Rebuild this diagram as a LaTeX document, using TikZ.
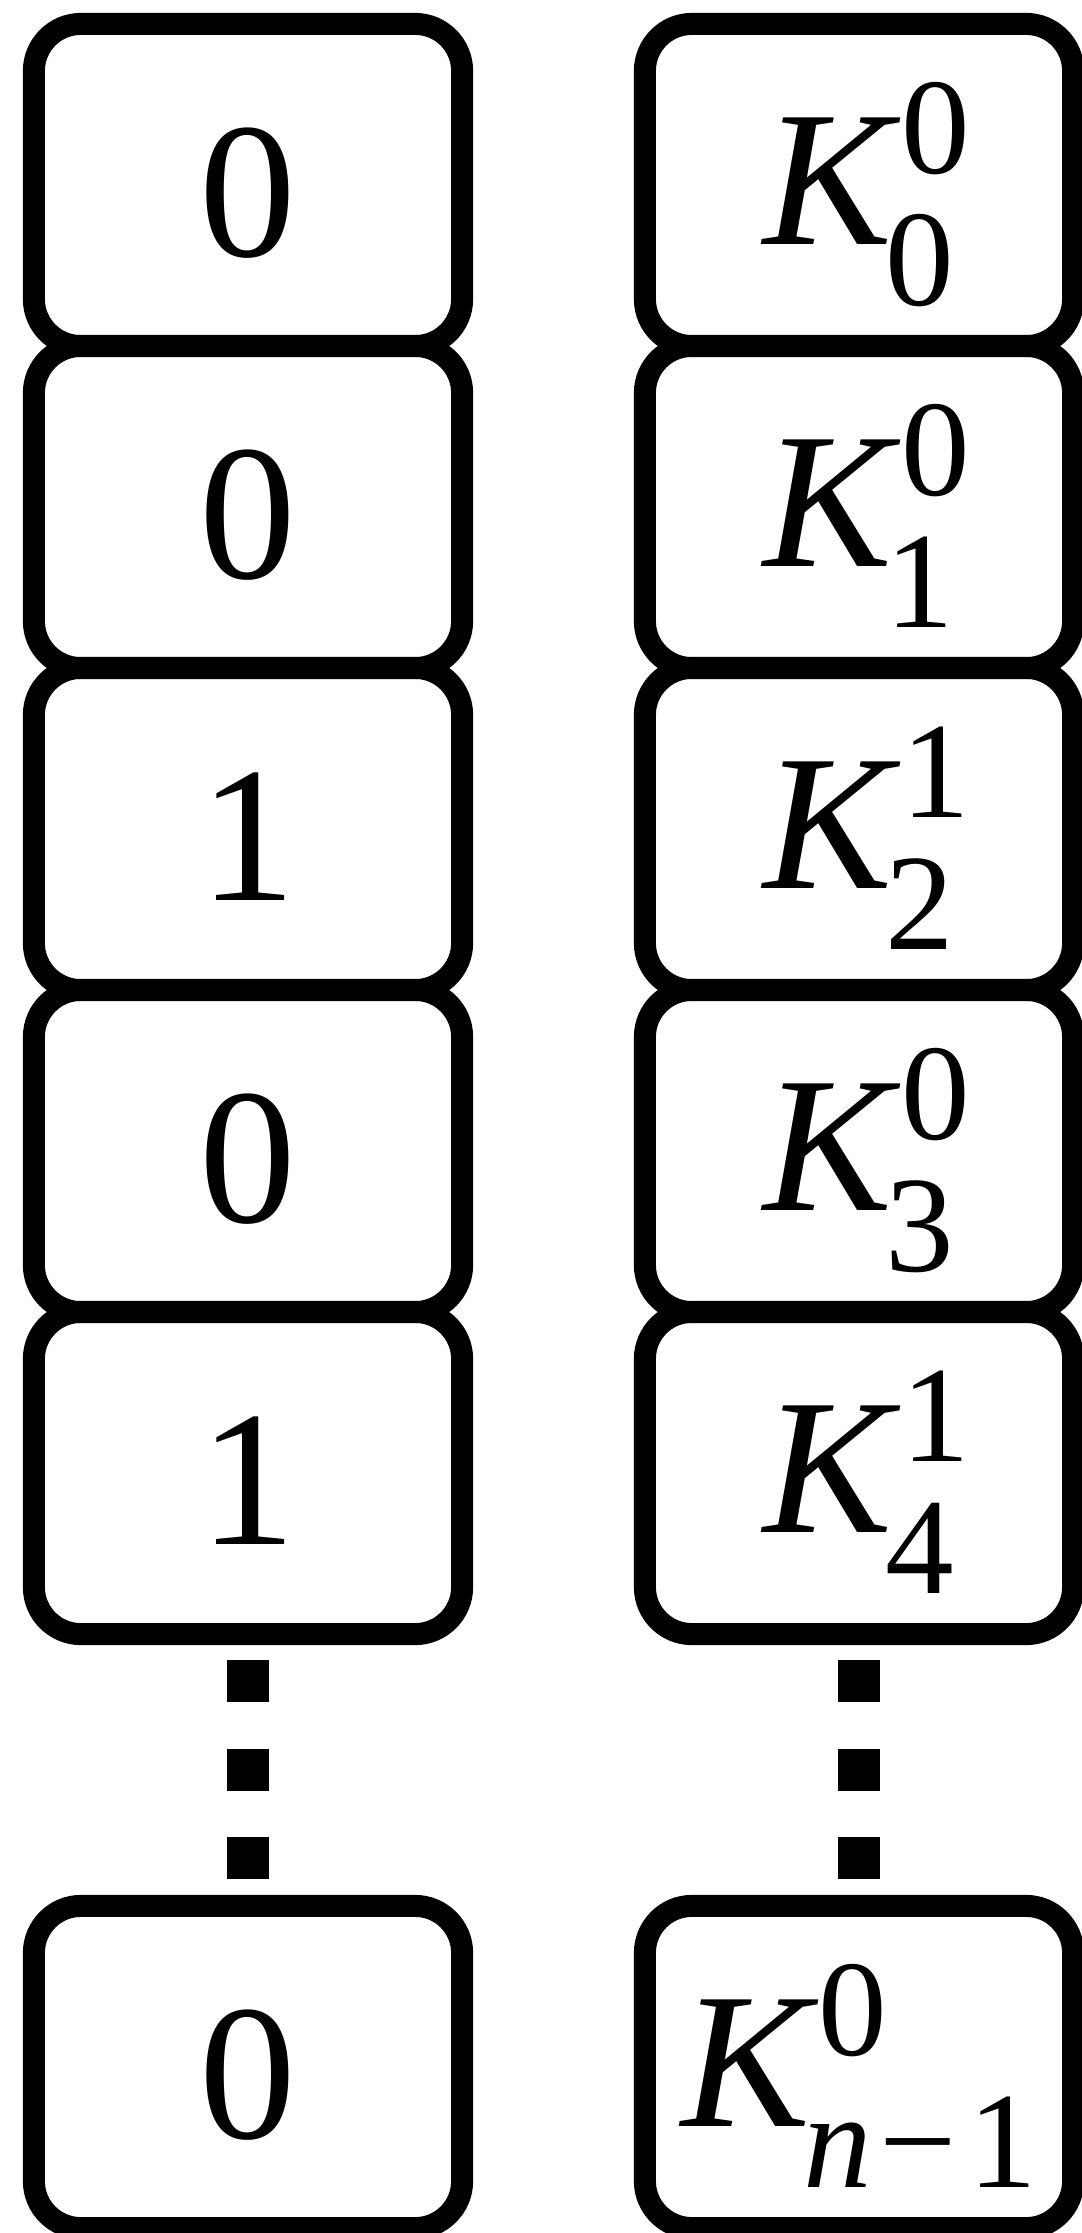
\documentclass[tikz,border=0pt]{standalone}
\usepackage{fontspec}
\setmainfont{LiberationSerif}[Extension=.ttf, UprightFont=*-Regular, ItalicFont=*-Italic, BoldFont=*-Bold, BoldItalicFont=*-BoldItalic]
\newcommand\SSz{\fontsize{39}{40}\selectfont}
\newcommand\KS[2]{\textit{K}\rlap{\kern0.0em\raisebox{0.365em}{\SSz #1}}\kern-0.08em\raisebox{-0.32em}{\SSz #2}}
\tikzset{
  cell/.style={draw, line width=0.22cm, rounded corners=0.47cm, minimum width=4.28cm, minimum height=3.22cm, inner sep=0pt, font=\fontsize{55}{60}\selectfont},
  lcell/.style={cell, text height=1.42cm, text depth=0cm},
  rcell/.style={cell, text height=1.18cm, text depth=0cm},
  dots/.style={line width=0.41cm, dash pattern=on 0.42cm off 0.465cm, shorten <=0.15cm, shorten >=0.16cm}
}
\begin{document}
\begin{tikzpicture}[x=0.01cm,y=-0.01cm]
\useasboundingbox (0,0) rectangle (1081,2233);
\node[lcell] (l0) at (248,185) {0};
\node[lcell] (l1) at (248,507) {0};
\node[lcell] (l2) at (248,829) {1};
\node[lcell] (l3) at (248,1151) {0};
\node[lcell] (l4) at (248,1473) {1};
\node[lcell] (l5) at (248,2067) {0};
\node[rcell] (r0) at (859,185) {\KS{0}{0}};
\node[rcell] (r1) at (859,507) {\KS{0}{1}};
\node[rcell] (r2) at (859,829) {\KS{1}{2}};
\node[rcell] (r3) at (859,1151) {\KS{0}{3}};
\node[rcell] (r4) at (859,1473) {\KS{1}{4}};
\node[rcell] (r5) at (859,2067) {\KS{0}{\textit{n}\kern0.06em−\kern0.08em1}};
\draw[dots] (l4.south) -- (l5.north);
\draw[dots] (r4.south) -- (r5.north);
\end{tikzpicture}
\end{document}
